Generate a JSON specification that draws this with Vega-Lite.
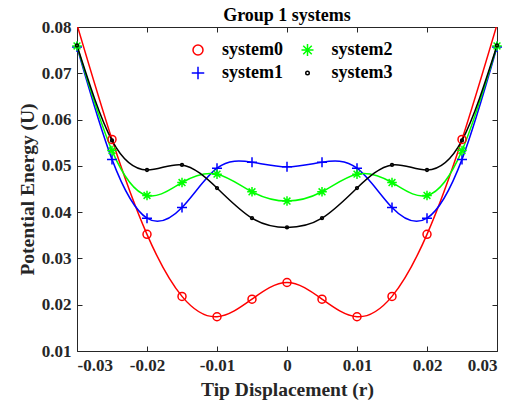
{
  "$schema": "https://vega.github.io/schema/vega-lite/v6.json",
  "width": 420,
  "height": 324,
  "autosize": "none",
  "padding": {"left": 77, "top": 27, "right": 22, "bottom": 56},
  "background": "white",
  "title": {"text": "Group 1 systems", "font": "Liberation Serif", "fontSize": 18, "fontWeight": "bold", "color": "#000000", "offset": 5, "dy": 12},
  "config": {
    "view": {"stroke": "#262626", "strokeWidth": 1},
    "axis": {"grid": false, "domain": false, "labelFont": "Liberation Serif", "labelFontSize": 17, "labelFontWeight": "bold", "labelColor": "#262626", "titleFont": "Liberation Serif", "titleFontSize": 19.5, "titleFontWeight": "bold", "titleColor": "#262626", "tickColor": "#262626", "tickSize": -5, "tickWidth": 1},
    "legend": {"orient": "none", "legendX": 112, "legendY": 14, "columns": 2, "labelFont": "Liberation Serif", "labelFontSize": 18, "labelFontWeight": "bold", "labelColor": "#000000", "symbolSize": 100, "symbolStrokeWidth": 1.5, "labelOffset": 15, "columnPadding": 15.5, "rowPadding": 4, "padding": 0}
  },
  "data": {"values": [
    {"system": "system0", "r": -0.03, "U": 0.0805},
    {"system": "system0", "r": -0.025, "U": 0.0557},
    {"system": "system0", "r": -0.02, "U": 0.0352},
    {"system": "system0", "r": -0.015, "U": 0.0218},
    {"system": "system0", "r": -0.01, "U": 0.0174},
    {"system": "system0", "r": -0.005, "U": 0.0212},
    {"system": "system0", "r": 0, "U": 0.0248},
    {"system": "system0", "r": 0.005, "U": 0.0212},
    {"system": "system0", "r": 0.01, "U": 0.0174},
    {"system": "system0", "r": 0.015, "U": 0.0218},
    {"system": "system0", "r": 0.02, "U": 0.0352},
    {"system": "system0", "r": 0.025, "U": 0.0557},
    {"system": "system0", "r": 0.03, "U": 0.0805},
    {"system": "system1", "r": -0.03, "U": 0.0757},
    {"system": "system1", "r": -0.025, "U": 0.0514},
    {"system": "system1", "r": -0.02, "U": 0.0387},
    {"system": "system1", "r": -0.015, "U": 0.0410},
    {"system": "system1", "r": -0.01, "U": 0.0495},
    {"system": "system1", "r": -0.005, "U": 0.0508},
    {"system": "system1", "r": 0, "U": 0.0498},
    {"system": "system1", "r": 0.005, "U": 0.0508},
    {"system": "system1", "r": 0.01, "U": 0.0495},
    {"system": "system1", "r": 0.015, "U": 0.0410},
    {"system": "system1", "r": 0.02, "U": 0.0387},
    {"system": "system1", "r": 0.025, "U": 0.0514},
    {"system": "system1", "r": 0.03, "U": 0.0757},
    {"system": "system2", "r": -0.03, "U": 0.0759},
    {"system": "system2", "r": -0.025, "U": 0.0533},
    {"system": "system2", "r": -0.02, "U": 0.0436},
    {"system": "system2", "r": -0.015, "U": 0.0464},
    {"system": "system2", "r": -0.01, "U": 0.0482},
    {"system": "system2", "r": -0.005, "U": 0.0444},
    {"system": "system2", "r": 0, "U": 0.0424},
    {"system": "system2", "r": 0.005, "U": 0.0444},
    {"system": "system2", "r": 0.01, "U": 0.0482},
    {"system": "system2", "r": 0.015, "U": 0.0464},
    {"system": "system2", "r": 0.02, "U": 0.0436},
    {"system": "system2", "r": 0.025, "U": 0.0533},
    {"system": "system2", "r": 0.03, "U": 0.0759},
    {"system": "system3", "r": -0.03, "U": 0.0760},
    {"system": "system3", "r": -0.025, "U": 0.0555},
    {"system": "system3", "r": -0.02, "U": 0.0491},
    {"system": "system3", "r": -0.015, "U": 0.0502},
    {"system": "system3", "r": -0.01, "U": 0.0452},
    {"system": "system3", "r": -0.005, "U": 0.0387},
    {"system": "system3", "r": 0, "U": 0.0367},
    {"system": "system3", "r": 0.005, "U": 0.0387},
    {"system": "system3", "r": 0.01, "U": 0.0452},
    {"system": "system3", "r": 0.015, "U": 0.0502},
    {"system": "system3", "r": 0.02, "U": 0.0491},
    {"system": "system3", "r": 0.025, "U": 0.0555},
    {"system": "system3", "r": 0.03, "U": 0.0760}
  ]},
  "layer": [
    {
      "mark": {"type": "line", "interpolate": "natural", "clip": true, "strokeWidth": 1.5},
      "encoding": {
        "x": {"field": "r", "type": "quantitative", "scale": {"domain": [-0.03, 0.03], "nice": false, "zero": false},
          "axis": {"orient": "bottom", "values": [-0.03, -0.02, -0.01, 0, 0.01, 0.02, 0.03], "labelExpr": "datum.value < 0 ? '-' + format(-datum.value, '.2~f') : format(datum.value, '.2~f')", "title": "Tip Displacement (r)", "labelPadding": 11, "titlePadding": 7}},
        "y": {"field": "U", "type": "quantitative", "scale": {"domain": [0.01, 0.08], "nice": false, "zero": false},
          "axis": {"orient": "left", "values": [0.01, 0.02, 0.03, 0.04, 0.05, 0.06, 0.07, 0.08], "format": ".2f", "title": "Potential Energy (U)", "labelPadding": 11, "titlePadding": 4}},
        "color": {"field": "system", "type": "nominal",
          "scale": {"domain": ["system0", "system1", "system2", "system3"], "range": ["#FF0000", "#0000FF", "#00FF00", "#000000"]},
          "legend": {"title": null}
        }
      }
    },
    {
      "transform": [{"filter": "datum.U <= 0.08"}],
      "mark": {"type": "point", "filled": false, "strokeWidth": 1.5, "size": 64, "opacity": 1},
      "encoding": {
        "x": {"field": "r", "type": "quantitative", "axis": {"orient": "top", "values": [-0.03, -0.02, -0.01, 0, 0.01, 0.02, 0.03], "labels": false, "title": null}},
        "y": {"field": "U", "type": "quantitative", "axis": {"orient": "right", "values": [0.01, 0.02, 0.03, 0.04, 0.05, 0.06, 0.07, 0.08], "labels": false, "title": null}},
        "color": {"field": "system", "type": "nominal", "legend": {"title": null}},
        "shape": {"field": "system", "type": "nominal",
          "scale": {"domain": ["system0", "system1", "system2", "system3"], "range": ["circle", "M-1.25,0L1.25,0M0,-1.25L0,1.25", "M-1.2,0L1.2,0M0,-1.2L0,1.2M-0.85,-0.85L0.85,0.85M-0.85,0.85L0.85,-0.85", "M0.35,0A0.35,0.35 0 1,1 -0.35,0A0.35,0.35 0 1,1 0.35,0"]},
          "legend": {"title": null}
        }
      }
    }
  ],
  "resolve": {"axis": {"x": "independent", "y": "independent"}}
}
